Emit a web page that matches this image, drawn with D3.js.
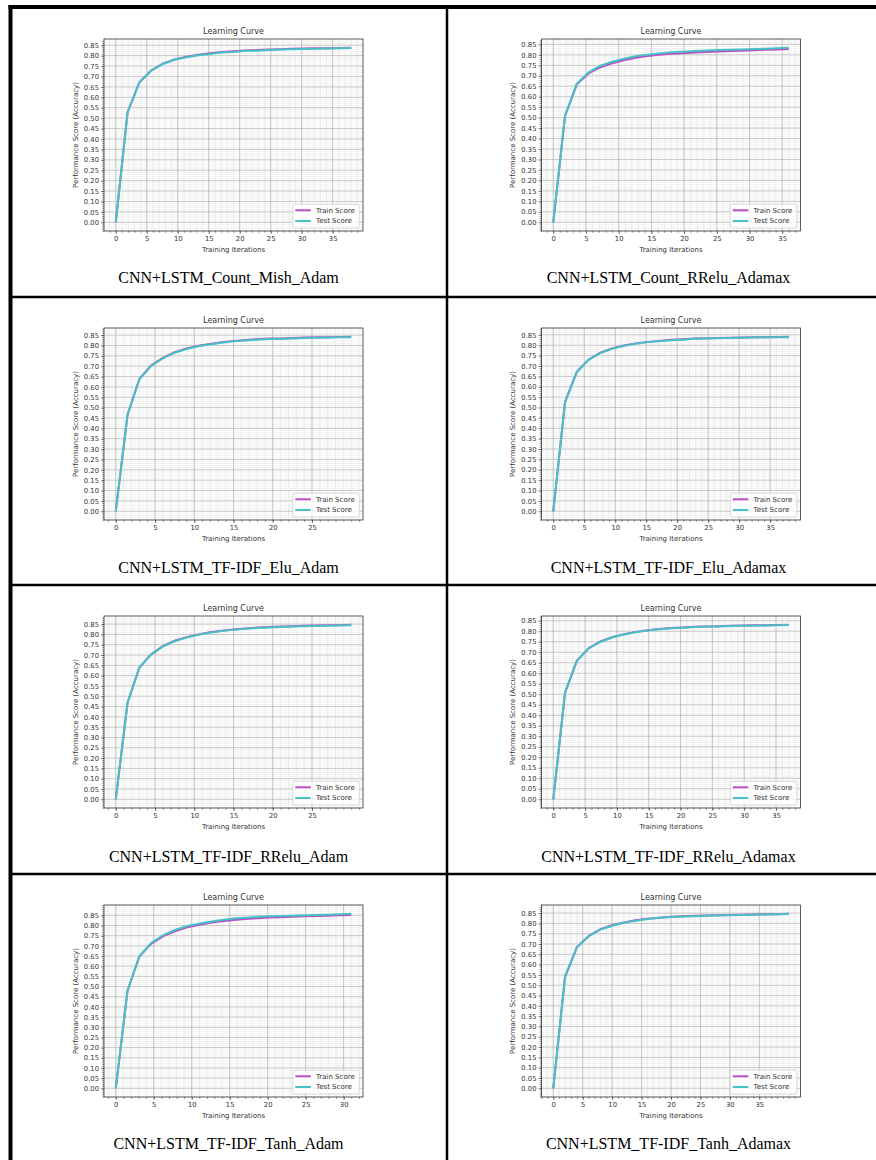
<!DOCTYPE html>
<html>
<head>
<meta charset="utf-8">
<script src="https://cdn.jsdelivr.net/npm/d3@7/dist/d3.min.js"></script>
<style>
body { margin: 0; background: #fff; }
svg { display: block; }
</style>
</head>
<body>
<svg id="page" width="876" height="1160"></svg>
<script>
// captions under each learning curve, row by row
var captions = [
	"CNN+LSTM_Count_Mish_Adam", "CNN+LSTM_Count_RRelu_Adamax",
	"CNN+LSTM_TF-IDF_Elu_Adam", "CNN+LSTM_TF-IDF_Elu_Adamax",
	"CNN+LSTM_TF-IDF_RRelu_Adam", "CNN+LSTM_TF-IDF_RRelu_Adamax",
	"CNN+LSTM_TF-IDF_Tanh_Adam", "CNN+LSTM_TF-IDF_Tanh_Adamax"
];

var seriesNames = ["Train Score", "Test Score"];

// training iterations of the plotted points
var iter1 = [0,1.9,3.8,5.7,7.6,9.5,11.4,13.3,15.2,17.1,19,20.9,22.8,24.7,26.6,28.5,30.4,32.3,34.2,36.1,38];
var iter2 = [0,1.8,3.6,5.4,7.2,9,10.8,12.6,14.4,16.2,18,19.8,21.6,23.4,25.2,27,28.8,30.6,32.4,34.2,36];
var iter3 = [0,1.5,3,4.5,6,7.5,9,10.5,12,13.5,15,16.5,18,19.5,21,22.5,24,25.5,27,28.5,30];
var iter4 = [0,1.9,3.8,5.7,7.6,9.5,11.4,13.3,15.2,17.1,19,20.9,22.8,24.7,26.6,28.5,30.4,32.3,34.2,36.1,38];
var iter5 = [0,1.5,3,4.5,6,7.5,9,10.5,12,13.5,15,16.5,18,19.5,21,22.5,24,25.5,27,28.5,30];
var iter6 = [0,1.85,3.7,5.55,7.4,9.25,11.1,12.95,14.8,16.65,18.5,20.35,22.2,24.05,25.9,27.75,29.6,31.45,33.3,35.15,37];
var iter7 = [0,1.55,3.1,4.65,6.2,7.75,9.3,10.85,12.4,13.95,15.5,17.05,18.6,20.15,21.7,23.25,24.8,26.35,27.9,29.45,31];
var iter8 = [0,2,4,6,8,10,12,14,16,18,20,22,24,26,28,30,32,34,36,38,40];

// accuracy
var train1 = [0,0.527,0.672,0.729,0.762,0.782,0.795,0.804,0.811,0.817,0.821,0.825,0.827,0.829,0.831,0.833,0.834,0.835,0.836,0.837,0.838];
var test1  = [0,0.527,0.671,0.727,0.760,0.780,0.792,0.802,0.808,0.815,0.818,0.823,0.824,0.827,0.829,0.831,0.832,0.833,0.834,0.835,0.837];
var train2 = [0,0.508,0.659,0.711,0.741,0.760,0.774,0.786,0.794,0.800,0.805,0.808,0.811,0.814,0.816,0.818,0.820,0.822,0.824,0.826,0.828];
var test2  = [0,0.509,0.662,0.716,0.748,0.767,0.781,0.793,0.801,0.807,0.812,0.815,0.818,0.821,0.823,0.824,0.826,0.828,0.829,0.831,0.834];
var train3 = [0,0.466,0.638,0.703,0.740,0.767,0.785,0.798,0.807,0.815,0.822,0.826,0.830,0.833,0.834,0.836,0.838,0.839,0.840,0.841,0.842];
var test3  = [0,0.465,0.637,0.701,0.738,0.765,0.783,0.796,0.805,0.813,0.820,0.824,0.828,0.831,0.832,0.834,0.836,0.837,0.838,0.839,0.840];
var train4 = [0,0.526,0.672,0.731,0.764,0.785,0.799,0.809,0.816,0.821,0.826,0.829,0.832,0.834,0.835,0.836,0.837,0.838,0.839,0.840,0.841];
var test4  = [0,0.527,0.671,0.730,0.762,0.783,0.797,0.807,0.815,0.819,0.824,0.827,0.831,0.832,0.834,0.835,0.836,0.837,0.838,0.839,0.839];
var train5 = [0,0.469,0.639,0.704,0.743,0.769,0.787,0.800,0.810,0.818,0.824,0.829,0.833,0.836,0.838,0.840,0.842,0.843,0.844,0.845,0.847];
var test5  = [0,0.468,0.638,0.702,0.741,0.767,0.785,0.798,0.808,0.816,0.822,0.827,0.831,0.834,0.836,0.838,0.840,0.841,0.842,0.843,0.845];
var train6 = [0,0.507,0.659,0.719,0.751,0.772,0.786,0.797,0.805,0.811,0.815,0.818,0.821,0.823,0.824,0.826,0.827,0.828,0.829,0.830,0.831];
var test6  = [0,0.508,0.659,0.718,0.749,0.770,0.784,0.795,0.803,0.809,0.814,0.817,0.820,0.822,0.823,0.825,0.826,0.826,0.827,0.828,0.830];
var train7 = [0,0.480,0.647,0.710,0.747,0.772,0.790,0.803,0.813,0.821,0.827,0.832,0.836,0.839,0.841,0.843,0.845,0.847,0.848,0.850,0.852];
var test7  = [0,0.481,0.649,0.714,0.752,0.778,0.796,0.809,0.819,0.827,0.834,0.838,0.842,0.845,0.847,0.848,0.850,0.852,0.853,0.855,0.858];
var train8 = [0,0.541,0.684,0.739,0.772,0.791,0.805,0.815,0.823,0.828,0.832,0.835,0.837,0.839,0.840,0.841,0.842,0.843,0.844,0.845,0.847];
var test8  = [0,0.541,0.683,0.737,0.770,0.789,0.803,0.813,0.821,0.827,0.831,0.834,0.835,0.837,0.839,0.840,0.841,0.842,0.843,0.844,0.846];

// tick labels
var xTicks25 = [0,5,10,15,20,25];
var xTicks30 = [0,5,10,15,20,25,30];
var xTicks35 = [0,5,10,15,20,25,30,35];
var yTicks = [0,0.05,0.10,0.15,0.20,0.25,0.30,0.35,0.40,0.45,0.50,0.55,0.60,0.65,0.70,0.75,0.80,0.85];

var charts = [
	{iter: iter1, train: train1, test: test1, xTicks: xTicks35},
	{iter: iter2, train: train2, test: test2, xTicks: xTicks35},
	{iter: iter3, train: train3, test: test3, xTicks: xTicks25},
	{iter: iter4, train: train4, test: test4, xTicks: xTicks35},
	{iter: iter5, train: train5, test: test5, xTicks: xTicks25},
	{iter: iter6, train: train6, test: test6, xTicks: xTicks35},
	{iter: iter7, train: train7, test: test7, xTicks: xTicks30},
	{iter: iter8, train: train8, test: test8, xTicks: xTicks35}
];

var trainColor = "#bb4cc2", testColor = "#46c2c6";
var sansFont = "DejaVu Sans, sans-serif";

// layout of the table and the plots
var colFrameLeft = [104, 541.5];
var rowFrameTop = [39, 328, 616, 905];
var frameW = 259, frameH = 192;
var captionX = [228.5, 668.5];
var captionY = [283.3, 572.7, 861.7, 1149.3];

var svg = d3.select("#page");

// table rules
var rules = svg.append("g").attr("stroke", "#000");
rules.append("line").attr("x1", 8.5).attr("x2", 876).attr("y1", 7).attr("y2", 7).attr("stroke-width", 4);
rules.append("line").attr("x1", 10.5).attr("x2", 10.5).attr("y1", 5).attr("y2", 1160).attr("stroke-width", 4);
rules.append("line").attr("x1", 447).attr("x2", 447).attr("y1", 7).attr("y2", 1160).attr("stroke-width", 2.5);
[297, 585, 874].forEach(function(y){
	rules.append("line").attr("x1", 10).attr("x2", 876).attr("y1", y).attr("y2", y).attr("stroke-width", 2.5);
});

function drawChart(k){
	var c = charts[k];
	var col = k % 2, row = Math.floor(k / 2);
	var g = svg.append("g")
		.attr("transform", "translate(" + colFrameLeft[col] + "," + rowFrameTop[row] + ")");

	// matplotlib style 5% margins round the data
	var xExt = d3.extent(c.iter);
	var xPad = (xExt[1] - xExt[0]) * 0.05;
	var yMax = Math.max(d3.max(c.train), d3.max(c.test));
	var yMin = Math.min(d3.min(c.train), d3.min(c.test));
	var yPad = (yMax - yMin) * 0.05;

	var x = d3.scaleLinear().domain([xExt[0] - xPad, xExt[1] + xPad]).range([0, frameW]);
	var y = d3.scaleLinear().domain([yMin - yPad, yMax + yPad]).range([frameH, 0]);

	var xMinor = d3.range(Math.ceil(x.domain()[0]), x.domain()[1], 1);
	var yMinor = d3.range(Math.ceil(y.domain()[0] * 100), y.domain()[1] * 100, 1).map(function(d){ return d / 100; });

	// minor grid
	g.append("g").selectAll("line").data(xMinor).enter().append("line")
		.attr("x1", function(d){ return x(d); }).attr("x2", function(d){ return x(d); })
		.attr("y1", 0).attr("y2", frameH)
		.attr("stroke", "#dcdcdc").attr("stroke-width", 0.5);
	g.append("g").selectAll("line").data(yMinor).enter().append("line")
		.attr("y1", function(d){ return y(d); }).attr("y2", function(d){ return y(d); })
		.attr("x1", 0).attr("x2", frameW)
		.attr("stroke", "#e6e6e6").attr("stroke-width", 0.5);

	// major grid
	g.append("g").selectAll("line").data(c.xTicks).enter().append("line")
		.attr("x1", function(d){ return x(d); }).attr("x2", function(d){ return x(d); })
		.attr("y1", 0).attr("y2", frameH)
		.attr("stroke", "#b4b4b4").attr("stroke-width", 0.7);
	g.append("g").selectAll("line").data(yTicks).enter().append("line")
		.attr("y1", function(d){ return y(d); }).attr("y2", function(d){ return y(d); })
		.attr("x1", 0).attr("x2", frameW)
		.attr("stroke", "#b4b4b4").attr("stroke-width", 0.7);

	// axes
	var xAxis = g.append("g").attr("transform", "translate(0," + frameH + ")")
		.call(d3.axisBottom(x).tickValues(c.xTicks).tickSize(3).tickPadding(2).tickFormat(d3.format("d")));
	g.append("g").attr("transform", "translate(0," + frameH + ")")
		.call(d3.axisBottom(x).tickValues(xMinor).tickSize(1.7).tickFormat(""));
	var yAxis = g.append("g")
		.call(d3.axisLeft(y).tickValues(yTicks).tickSize(3).tickPadding(2).tickFormat(d3.format(".2f")));
	g.append("g")
		.call(d3.axisLeft(y).tickValues(yMinor).tickSize(1.7).tickFormat(""));

	g.selectAll(".domain").remove();
	g.selectAll(".tick line").attr("stroke", "#333").attr("stroke-width", 0.6);
	g.selectAll(".tick text").attr("font-family", sansFont).attr("font-size", 6.8).attr("fill", "#333");

	// curves
	var line = d3.line()
		.x(function(d){ return x(d[0]); })
		.y(function(d){ return y(d[1]); });

	g.append("path")
		.datum(d3.zip(c.iter, c.train))
		.attr("d", line)
		.attr("fill", "none").attr("stroke", trainColor).attr("stroke-width", 2);
	g.append("path")
		.datum(d3.zip(c.iter, c.test))
		.attr("d", line)
		.attr("fill", "none").attr("stroke", testColor).attr("stroke-width", 2);

	// frame
	g.append("rect").attr("width", frameW).attr("height", frameH)
		.attr("fill", "none").attr("stroke", "#333").attr("stroke-width", 0.8);

	// legend, lower right
	var lw = 66.5, lh = 23.7;
	var leg = g.append("g").attr("transform", "translate(" + (frameW - 3.7 - lw) + "," + (frameH - 3 - lh) + ")");
	leg.append("rect").attr("width", lw).attr("height", lh).attr("rx", 2)
		.attr("fill", "#fff").attr("fill-opacity", 0.8).attr("stroke", "#d0d0d0").attr("stroke-width", 0.7);
	[trainColor, testColor].forEach(function(col, i){
		var ly = 6 + i * 10.7;
		leg.append("line").attr("x1", 2.5).attr("x2", 18).attr("y1", ly).attr("y2", ly)
			.attr("stroke", col).attr("stroke-width", 2);
		leg.append("text").attr("x", 23.3).attr("y", ly).attr("dy", "0.35em")
			.attr("font-family", sansFont).attr("font-size", 7).attr("fill", "#333")
			.text(seriesNames[i]);
	});

	// title and axis labels
	g.append("text").attr("x", frameW / 2).attr("y", -5).attr("text-anchor", "middle")
		.attr("font-family", sansFont).attr("font-size", 8).attr("fill", "#333")
		.text("Learning Curve");
	g.append("text").attr("x", frameW / 2).attr("y", frameH + 21).attr("text-anchor", "middle")
		.attr("font-family", sansFont).attr("font-size", 7).attr("fill", "#333")
		.text("Training Iterations");
	g.append("text").attr("transform", "translate(-26.5," + (frameH / 2) + ") rotate(-90)")
		.attr("text-anchor", "middle")
		.attr("font-family", sansFont).attr("font-size", 7).attr("fill", "#333")
		.text("Performance Score (Accuracy)");

	// caption in the table cell
	svg.append("text").attr("x", captionX[col]).attr("y", captionY[row]).attr("text-anchor", "middle")
		.attr("font-family", "Liberation Serif, Times New Roman, serif").attr("font-size", 16).attr("fill", "#000")
		.text(captions[k]);
}

charts.forEach(function(c, k){ drawChart(k); });
</script>
</body>
</html>
